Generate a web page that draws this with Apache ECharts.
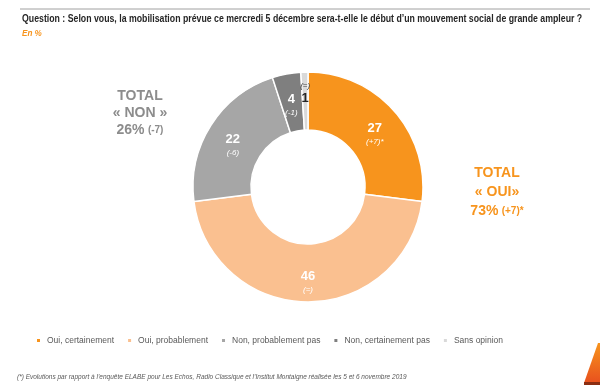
<!DOCTYPE html>
<html><head><meta charset="utf-8">
<script src="https://cdn.jsdelivr.net/npm/echarts@6/dist/echarts.min.js"></script>
<style>html,body{margin:0;padding:0;background:#fff}#c{width:600px;height:385px}</style>
</head><body><div id="c"></div>
<script>
const categories = ["Oui, certainement", "Oui, probablement", "Non, probablement pas", "Non, certainement pas", "Sans opinion"];
const values = [27, 46, 22, 4, 1];
const evolutions = ["(+7)*", "(=)", "(-6)", "(-1)", "(=)"];
const colors = ["#F7941D", "#FAC090", "#A6A6A6", "#7F7F7F", "#D9D9D9"];
const titleText = "Question : Selon vous, la mobilisation prévue ce mercredi 5 décembre sera-t-elle le début d\u2019un mouvement social de grande ampleur ?";
const subText = "En %";
const footnote = "(*) Evolutions par rapport à l\u2019enquête ELABE pour Les Echos, Radio Classique et l\u2019Institut Montaigne réalisée les 5 et 6 novembre 2019";
const totalNon = ["TOTAL", "\u00ab NON \u00bb", "26%", "(-7)"];
const totalOui = ["TOTAL", "\u00ab OUI\u00bb", "73%", "(+7)*"];

const FONT = "'Liberation Sans', Arial, sans-serif";
const chart = echarts.init(document.getElementById('c'));

const labelRich = {
  d: { fontFamily: FONT, fontSize: 13, fontWeight: 'bold', color: '#fff', lineHeight: 15 },
  e: { fontFamily: FONT, fontSize: 8, fontStyle: 'italic', color: '#fff', lineHeight: 12 }
};
const data = categories.map((n, i) => {
  const d = { name: n, value: values[i], itemStyle: { color: colors[i] } };
  if (i === 4) {
    d.label = {
      formatter: '{e|' + evolutions[i] + '}\n{d|' + values[i] + '}',
      padding: [0, 0, 12, 0],
      rich: {
        d: { fontFamily: FONT, fontSize: 13, fontWeight: 'bold', color: '#262626', lineHeight: 13 },
        e: { fontFamily: FONT, fontSize: 8, fontStyle: 'italic', color: '#404040', lineHeight: 12 }
      }
    };
  }
  return d;
});

chart.setOption({
  animation: false,
  color: colors,
  legend: {
    top: 331, left: 30, itemWidth: 5, itemHeight: 5, itemGap: 12, icon: 'rect',
    textStyle: { fontFamily: FONT, fontSize: 8.5, color: '#595959', padding: [0, 0, 0, 1] },
    data: categories
  },
  graphic: [
    { type: 'line', shape: { x1: 20, y1: 9, x2: 590, y2: 9 }, style: { stroke: '#A0A0A0', lineWidth: 1 } },
    { type: 'text', x: 22, y: 14, scaleX: 0.875, style: { text: titleText, font: 'bold 10px ' + FONT, fill: '#262626', textVerticalAlign: 'top' } },
    { type: 'text', x: 22, y: 29, scaleX: 0.9, style: { text: subText, font: 'italic bold 9px ' + FONT, fill: '#F7941D', textVerticalAlign: 'top' } },
    { type: 'text', x: 17, y: 374, style: { text: footnote, font: 'italic 6.5px ' + FONT, fill: '#595959', textVerticalAlign: 'top' } },
    { type: 'text', x: 140, y: 88, style: {
        text: '{b|' + totalNon[0] + '}\n{b|' + totalNon[1] + '}\n{b|' + totalNon[2] + '} {s|' + totalNon[3] + '}',
        align: 'center', fill: '#8C8C8C',
        rich: { b: { fontFamily: FONT, fontSize: 14, fontWeight: 'bold', fill: '#8C8C8C', color: '#8C8C8C', lineHeight: 17 },
                s: { fontFamily: FONT, fontSize: 10, fontWeight: 'bold', fill: '#8C8C8C', color: '#8C8C8C', lineHeight: 17 } } } },
    { type: 'text', x: 497, y: 164, style: {
        text: '{b|' + totalOui[0] + '}\n{b|' + totalOui[1] + '}\n{b|' + totalOui[2] + '} {s|' + totalOui[3] + '}',
        align: 'center', fill: '#F7941D',
        rich: { b: { fontFamily: FONT, fontSize: 14, fontWeight: 'bold', fill: '#F7941D', color: '#F7941D', lineHeight: 19 },
                s: { fontFamily: FONT, fontSize: 10, fontWeight: 'bold', fill: '#F7941D', color: '#F7941D', lineHeight: 19 } } } },
    { type: 'polygon', shape: { points: [[598, 343], [584, 383], [600, 383], [600, 343]] },
      style: { fill: new echarts.graphic.LinearGradient(0, 0, 0, 1, [{ offset: 0, color: '#F7941D' }, { offset: 1, color: '#E8501E' }]) } },
    { type: 'rect', shape: { x: 584, y: 382, width: 16, height: 3 }, style: { fill: '#8B2E12' } }
  ],
  series: [{
    type: 'pie',
    center: [308, 187],
    radius: [57, 115],
    startAngle: 90,
    clockwise: true,
    avoidLabelOverlap: false,
    itemStyle: { borderColor: '#fff', borderWidth: 1.5 },
    label: {
      show: true, position: 'inside',
      padding: [12, 0, 0, 0],
      formatter: p => '{d|' + p.value + '}\n{e|' + evolutions[p.dataIndex] + '}',
      rich: labelRich
    },
    labelLine: { show: false },
    emphasis: { disabled: true },
    data: data
  }]
});
</script></body></html>
